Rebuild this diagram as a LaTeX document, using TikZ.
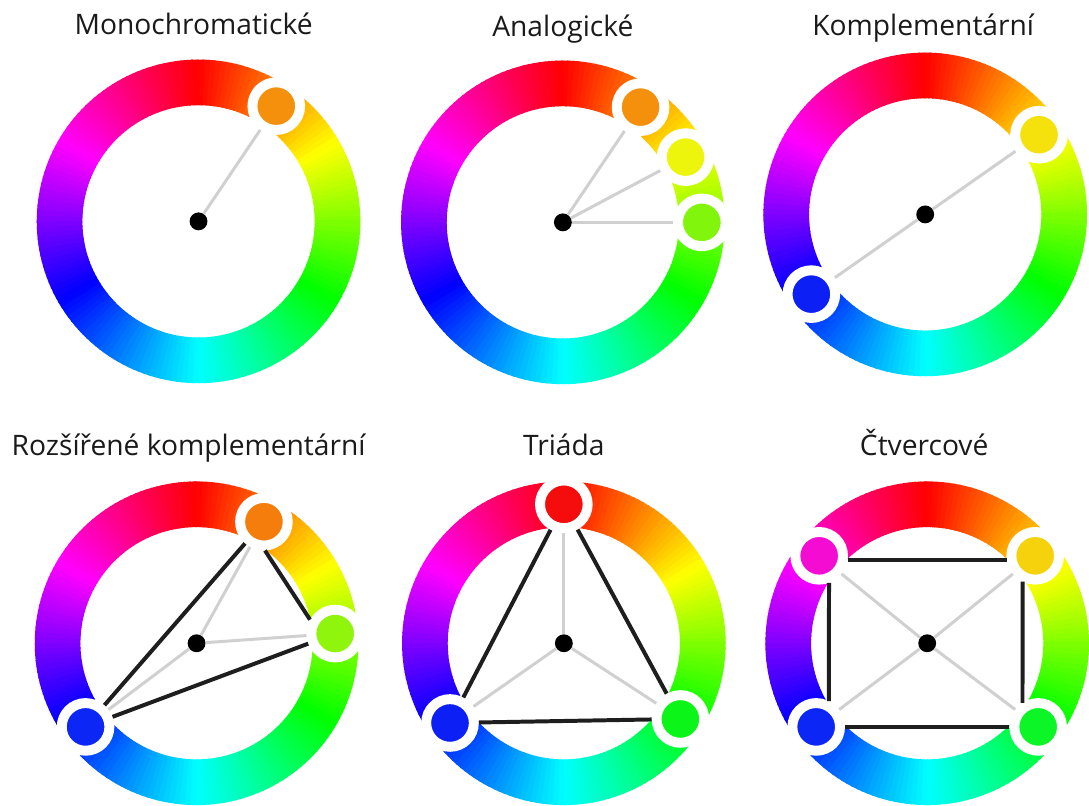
\documentclass[tikz,border=0pt]{standalone}
\usepackage{fontspec}
\setmainfont{Open Sans}
\usepackage{tikz}
\usetikzlibrary{calc,positioning}
\definecolor{cwInk}{RGB}{30,30,30}
\definecolor{cwSpoke}{RGB}{208,208,208}
\definecolor{cwText}{RGB}{26,26,26}
\tikzset{
  huedot/.style={circle,draw=white,line width=0.25cm,minimum size=1.2cm,inner sep=0pt},
  hub/.style={circle,fill=black,minimum size=0.45cm,inner sep=0pt},
  spoke/.style={draw=cwSpoke,line width=0.075cm},
  chord/.style={draw=cwInk,line width=0.1cm},
  wheeltitle/.style={anchor=base,inner sep=0pt,text=cwText,font=\fontsize{20.2}{24}\selectfont}
}
% ring of hues, red on top, running clockwise
\newcommand{\huering}[1]{%
  \begin{scope}[shift={(#1)}]
    \foreach \a in {0,2,...,358}{
      \pgfmathsetmacro{\ringhue}{mod(449-\a,360)}
      \convertcolorspec{Hsb}{\ringhue,1,1}{rgb}\ringrgb
      \definecolor{ringc}{rgb}{\ringrgb}
      \fill[ringc] (\a:117) arc[start angle=\a,end angle=\a+2.6,radius=117]
        -- (\a+2.6:163) arc[start angle=\a+2.6,end angle=\a,radius=163] -- cycle;
    }
  \end{scope}
}
% marker sitting on the ring at a given angle
\newcommand{\huedot}[3]{%
  \pgfmathsetmacro{\dothue}{mod(810-#3,360)}
  \convertcolorspec{Hsb}{\dothue,0.95,0.96}{rgb}\dotrgb
  \definecolor{dotc}{rgb}{\dotrgb}
  \node[huedot,fill=dotc] (#1) at ($(#2)+(#3:140)$) {};
}
\begin{document}
\begin{tikzpicture}[x=0.025cm,y=0.025cm]
  \fill[white] (0,0) rectangle (1089,805);
  \coordinate (w1) at (200,582); \coordinate (w2) at (567,581); \coordinate (w3) at (932,589);
  \coordinate (w4) at (198,157); \coordinate (w5) at (568,157); \coordinate (w6) at (934,157);

  \node[wheeltitle] (t1) at (195,770) {Monochromatické};
  \node[wheeltitle] (t2) at (567,768) {Analogické};
  \node[wheeltitle] (t3) at (930,769) {Komplementární};
  \node[wheeltitle] (t4) at (190,346) {Rozšířené komplementární};
  \node[wheeltitle] (t5) at (568,346) {Triáda};
  \node[wheeltitle] (t6) at (931,346) {Čtvercové};

  % monochromatic
  \huering{w1}
  \huedot{o1}{w1}{56}
  \node[hub] (c1) at (w1) {};
  \draw[spoke] (c1) -- (o1);

  % analogous
  \huering{w2}
  \huedot{o2}{w2}{56} \huedot{y2}{w2}{28} \huedot{g2}{w2}{0}
  \node[hub] (c2) at (w2) {};
  \draw[spoke] (c2) -- (o2); \draw[spoke] (c2) -- (y2); \draw[spoke] (c2) -- (g2);

  % complementary
  \huering{w3}
  \huedot{y3}{w3}{35} \huedot{b3}{w3}{215}
  \node[hub] (c3) at (w3) {};
  \draw[spoke] (c3) -- (y3); \draw[spoke] (c3) -- (b3);

  % split complementary
  \huering{w4}
  \huedot{o4}{w4}{61} \huedot{g4}{w4}{4} \huedot{b4}{w4}{217}
  \node[hub] (c4) at (w4) {};
  \draw[spoke] (c4) -- (o4); \draw[spoke] (c4) -- (g4); \draw[spoke] (c4) -- (b4);
  \draw[chord] (o4) -- (b4); \draw[chord] (o4.-88) -- (g4.151); \draw[chord] (b4) -- (g4);

  % triad
  \huering{w5}
  \huedot{r5}{w5}{90} \huedot{b5}{w5}{215} \huedot{g5}{w5}{-33}
  \node[hub] (c5) at (w5) {};
  \draw[spoke] (c5) -- (r5); \draw[spoke] (c5) -- (b5); \draw[spoke] (c5) -- (g5);
  \draw[chord] (r5) -- (b5); \draw[chord] (r5) -- (g5); \draw[chord] (b5) -- (g5);

  % square
  \huering{w6}
  \huedot{m6}{w6}{141} \huedot{y6}{w6}{39} \huedot{b6}{w6}{217} \huedot{g6}{w6}{-37}
  \node[hub] (c6) at (w6) {};
  \draw[spoke] (c6) -- (m6); \draw[spoke] (c6) -- (y6);
  \draw[spoke] (c6) -- (b6); \draw[spoke] (c6) -- (g6);
  \draw[chord] (m6.-8) -- (y6.188); \draw[chord] (b6) -- (g6);
  \draw[chord] (m6.-70) -- (b6.64); \draw[chord] (y6.-116) -- (g6.123);
\end{tikzpicture}
\end{document}
